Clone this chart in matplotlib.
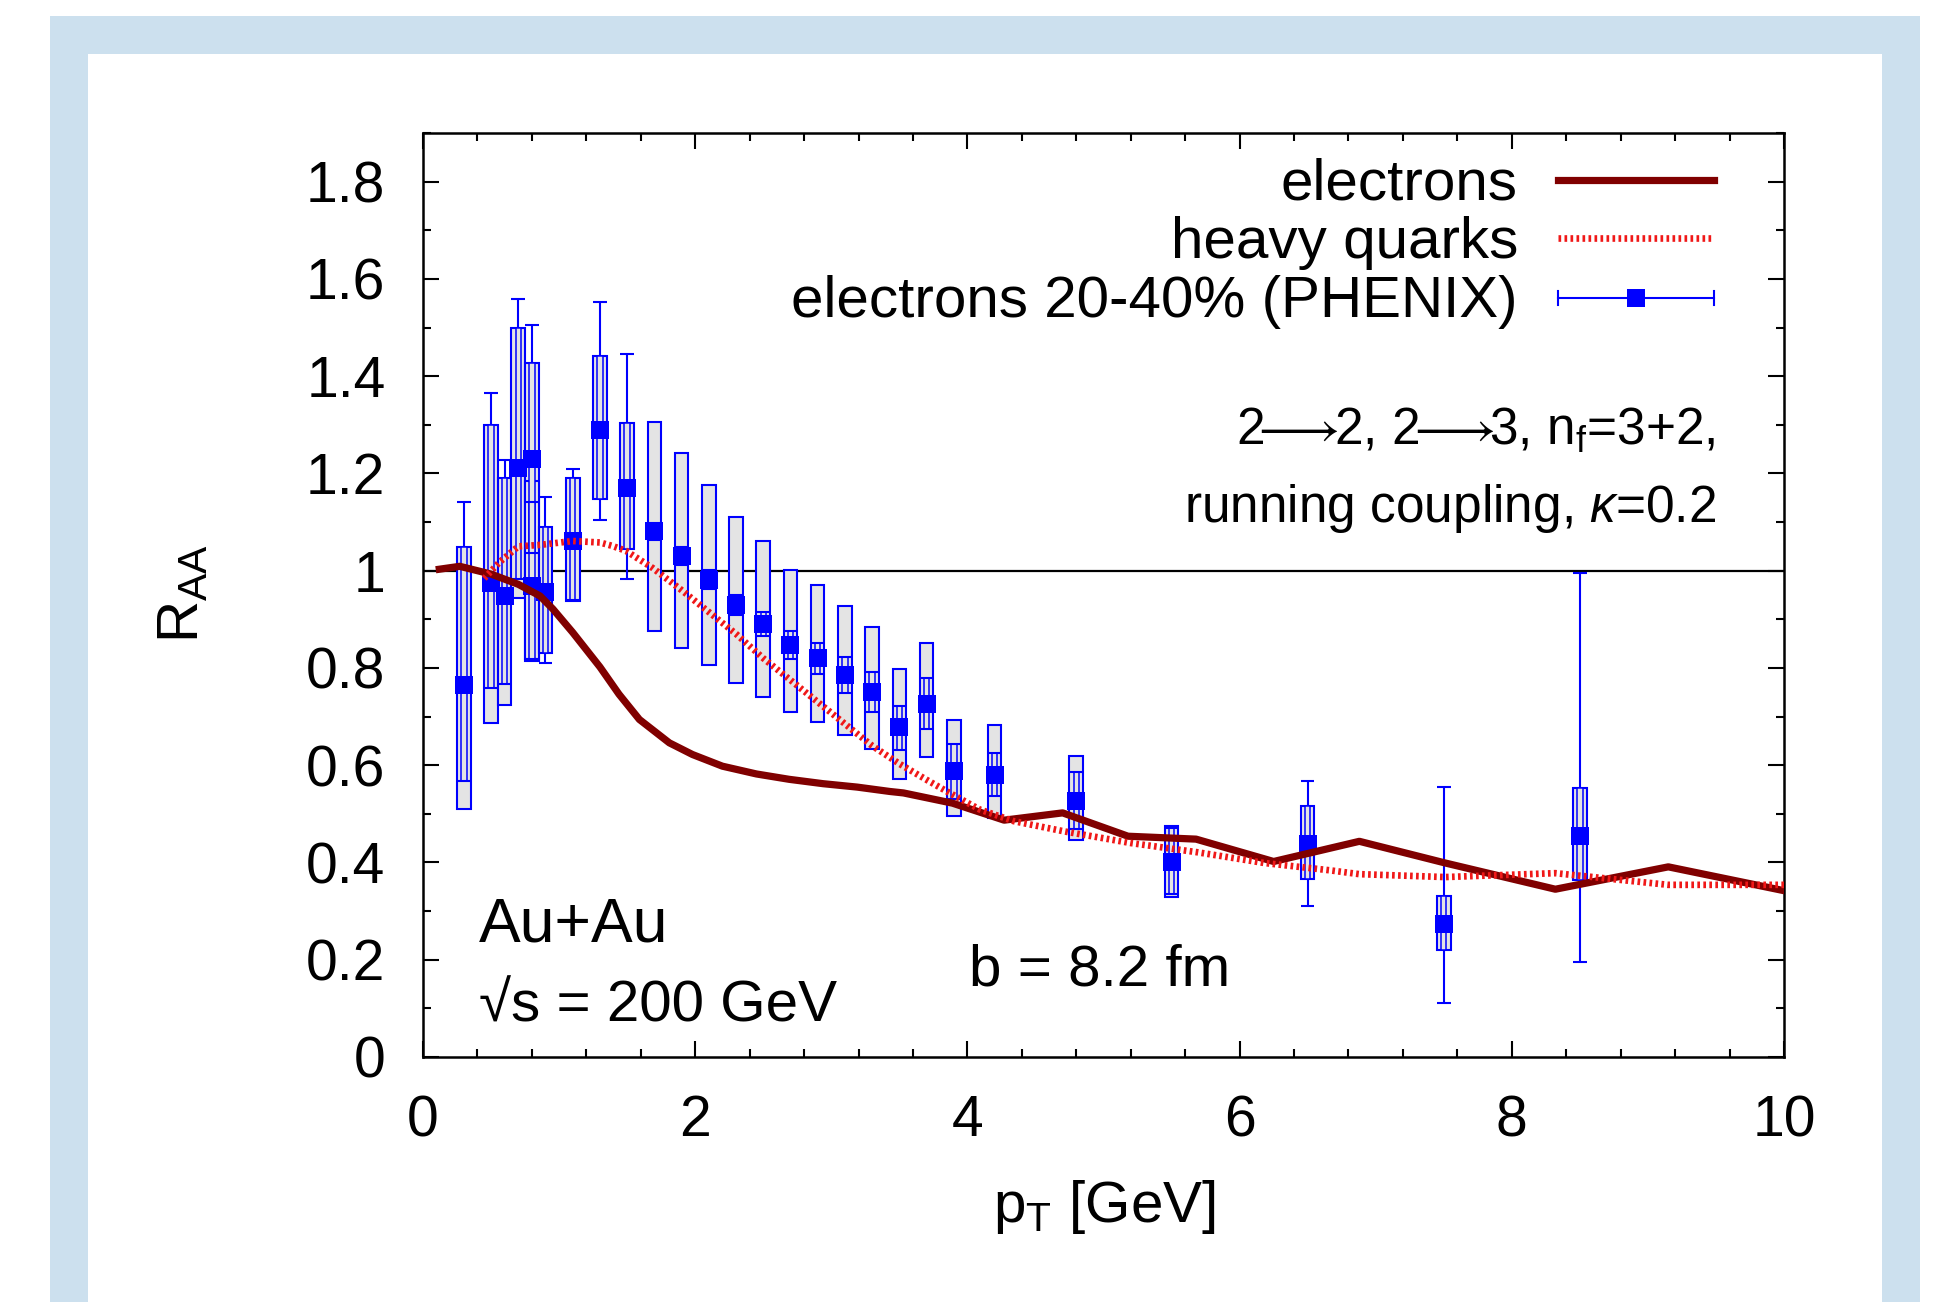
import numpy as np
import matplotlib
matplotlib.use('Agg')
import matplotlib.pyplot as plt
from matplotlib.patches import Rectangle

plt.rcParams['font.family'] = ['Liberation Sans', 'DejaVu Sans']
plt.rcParams['mathtext.fontset'] = 'custom'
plt.rcParams['mathtext.rm'] = 'Liberation Sans'
plt.rcParams['mathtext.it'] = 'Liberation Sans:italic'

# PHENIX electrons 20-40%
pt = [0.3, 0.5, 0.6, 0.7, 0.8, 0.8, 0.9, 1.1, 1.3, 1.5, 1.7, 1.9, 2.1, 2.3,
      2.5, 2.7, 2.9, 3.1, 3.3, 3.5, 3.7, 3.9, 4.2, 4.8, 5.5, 6.5, 7.5, 8.5]
raa = [0.765, 0.974, 0.948, 1.211, 1.230, 0.969, 0.956, 1.061, 1.290, 1.171,
       1.082, 1.030, 0.980, 0.929, 0.890, 0.847, 0.820, 0.785, 0.750, 0.678,
       0.726, 0.588, 0.579, 0.526, 0.401, 0.437, 0.274, 0.454]
stat_hi = [1.142, 1.366, 1.228, 1.559, 1.506, 1.142, 1.151, 1.209, 1.552, 1.446,
           1.099, 1.049, 1.002, 0.951, 0.916, 0.875, 0.852, 0.822, 0.792, 0.722,
           0.779, 0.644, 0.626, 0.586, 0.470, 0.567, 0.555, 0.996]
stat_lo = [0.568, 0.759, 0.766, 0.982, 1.036, 0.818, 0.811, 0.940, 1.105, 0.983,
           1.063, 1.011, 0.962, 0.908, 0.866, 0.819, 0.788, 0.749, 0.710, 0.632,
           0.674, 0.531, 0.536, 0.468, 0.335, 0.311, 0.112, 0.196]
sys_hi = [1.048, 1.300, 1.190, 1.500, 1.428, 1.185, 1.089, 1.190, 1.442, 1.304,
          1.306, 1.241, 1.177, 1.111, 1.062, 1.001, 0.970, 0.927, 0.884, 0.797,
          0.852, 0.692, 0.682, 0.619, 0.476, 0.517, 0.332, 0.553]
sys_lo = [0.509, 0.686, 0.723, 0.943, 0.814, 0.818, 0.830, 0.937, 1.147, 1.044,
          0.877, 0.841, 0.807, 0.770, 0.740, 0.710, 0.689, 0.662, 0.634, 0.572,
          0.616, 0.495, 0.492, 0.446, 0.330, 0.366, 0.221, 0.363]

# model curves
e_pt = [0.12, 0.27, 0.50, 0.70, 0.86, 0.955, 1.10, 1.30, 1.44, 1.59, 1.81, 1.98,
        2.20, 2.45, 2.69, 2.94, 3.19, 3.43, 3.53, 3.89, 4.27, 4.70, 5.18, 5.68,
        6.25, 6.88, 7.51, 8.32, 9.15, 10.0]
e_raa = [1.003, 1.009, 0.993, 0.972, 0.948, 0.921, 0.873, 0.802, 0.746, 0.694,
         0.646, 0.622, 0.598, 0.582, 0.571, 0.562, 0.555, 0.546, 0.543, 0.522,
         0.487, 0.502, 0.454, 0.448, 0.402, 0.4435, 0.399, 0.345, 0.391, 0.342]
h_pt = [0.45, 0.56, 0.70, 0.86, 1.10, 1.30, 1.39, 1.49, 1.69, 1.90, 2.10, 2.30,
        2.50, 2.70, 2.90, 3.10, 3.30, 3.50, 3.70, 3.85, 4.09, 4.34, 4.71, 5.20,
        5.69, 6.18, 6.66, 6.88, 7.51, 8.32, 9.15, 10.0]
h_raa = [0.984, 1.017, 1.050, 1.053, 1.061, 1.058, 1.051, 1.041, 1.005, 0.960,
         0.915, 0.870, 0.820, 0.775, 0.730, 0.685, 0.640, 0.603, 0.570, 0.546,
         0.509, 0.485, 0.464, 0.440, 0.421, 0.399, 0.384, 0.376, 0.370, 0.378,
         0.354, 0.354]

yticks = [0, 0.2, 0.4, 0.6, 0.8, 1.0, 1.2, 1.4, 1.6, 1.8]
ytick_labels = ['0', '0.2', '0.4', '0.6', '0.8', '1', '1.2', '1.4', '1.6', '1.8']

BLUE = '#0000ff'
GREY = '#e4e4e4'
DARKRED = '#800000'
RED = '#f01818'
DOTS = (0, (0.4, 0.5))
MS = 13.5

fig = plt.figure(figsize=(19.36, 13.02), dpi=100)
W, H = 1936, 1302
# light blue frame around the slide
fig.patches.append(Rectangle((50 / W, 0), 1870 / W, 1286 / H, transform=fig.transFigure,
                             facecolor='#cce0ee', edgecolor='none', zorder=-2))
fig.patches.append(Rectangle((88 / W, 0), 1794 / W, 1248 / H, transform=fig.transFigure,
                             facecolor='white', edgecolor='none', zorder=-1))

ax = fig.add_axes([423 / W, 1 - 1057 / H, 1361 / W, 924 / H])
ax.set_xlim(0, 10)
ax.set_ylim(0, 1.9)

ax.axhline(1.0, color='black', lw=1.6, zorder=1.5)

pt_a = np.array(pt)
s_lo, s_hi = np.array(stat_lo), np.array(stat_hi)
b_lo, b_hi = np.array(sys_lo), np.array(sys_hi)

# systematic boxes
ax.bar(pt_a, b_hi - b_lo, bottom=b_lo, width=0.1, color=GREY, edgecolor=BLUE,
       linewidth=1.5, zorder=2)
# statistical bars (hollow inside the boxes, like the original)
ax.vlines(pt_a, s_lo, s_hi, color=BLUE, lw=1.5, zorder=3)
in_lo = np.maximum(s_lo, b_lo)
in_hi = np.minimum(s_hi, b_hi)
ok = in_hi > in_lo
ax.bar(pt_a[ok], (in_hi - in_lo)[ok], bottom=in_lo[ok], width=0.04, color=GREY,
       edgecolor=BLUE, linewidth=1.1, zorder=3.1)
ax.hlines(s_hi, pt_a - 0.05, pt_a + 0.05, color=BLUE, lw=1.5, zorder=3.2)
ax.hlines(s_lo, pt_a - 0.05, pt_a + 0.05, color=BLUE, lw=1.5, zorder=3.2)
ax.plot(pt, raa, 's', color=BLUE, ms=MS, mew=0, zorder=4)

ax.plot(e_pt, e_raa, color=DARKRED, lw=5.2, zorder=5)
ax.plot(h_pt, h_raa, color=RED, lw=4.8, ls=DOTS, zorder=5)

# ticks
ax.set_xticks(np.arange(0, 11, 2))
ax.set_xticks(np.arange(0, 10.01, 0.4), minor=True)
ax.set_yticks(yticks)
ax.set_yticklabels(ytick_labels)
ax.set_yticks(np.arange(0, 1.91, 0.1), minor=True)
ax.tick_params(which='both', direction='in', top=True, right=True, width=1.5,
               labelsize=41, pad=27)
ax.tick_params(which='major', length=11.5)
ax.tick_params(which='minor', length=6)
for s in ax.spines.values():
    s.set_linewidth(1.8)

fig.text(183 / W, 1 - 593 / H, r'R$_\mathregular{AA}$', fontsize=42, rotation=90,
         ha='center', va='center')
fig.text(1104 / W, 1 - 1222 / H, r'p$_\mathregular{T}$ [GeV]', fontsize=42,
         ha='center', va='baseline')

# legend, drawn by hand like the gnuplot key
tx = 0.8045
x0, x1 = 0.834, 0.9486
ax.text(tx, 0.9275, 'electrons', transform=ax.transAxes, fontsize=42,
        ha='right', va='baseline')
ax.plot([x0, x1], [0.949, 0.949], transform=ax.transAxes, color=DARKRED, lw=5.2,
        clip_on=False)
ax.text(tx, 0.8647, 'heavy quarks', transform=ax.transAxes, fontsize=42,
        ha='right', va='baseline')
ax.plot([x0, x1], [0.886, 0.886], transform=ax.transAxes, color=RED, lw=4.8,
        ls=DOTS, clip_on=False)
ax.text(tx, 0.8005, 'electrons 20-40% (PHENIX)', transform=ax.transAxes,
        fontsize=42, ha='right', va='baseline')
ly = 0.8214
ax.plot([x0, x1], [ly, ly], transform=ax.transAxes, color=BLUE, lw=1.5, clip_on=False)
for xc in (x0, x1):
    ax.plot([xc, xc], [ly - 0.0078, ly + 0.0078], transform=ax.transAxes, color=BLUE,
            lw=1.5, clip_on=False)
ax.plot([(x0 + x1) / 2], [ly], 's', transform=ax.transAxes, color=BLUE, ms=MS,
        mew=0, clip_on=False)

arrow = r'$\!\!\longrightarrow\!\!$'
ax.text(0.950, 0.663, '2' + arrow + '2, 2' + arrow + r'3, n$_\mathregular{f}$=3+2,',
        transform=ax.transAxes, fontsize=37, ha='right', va='baseline')
ax.text(0.950, 0.579, r'running coupling, $\kappa$=0.2', transform=ax.transAxes,
        fontsize=37, ha='right', va='baseline')
ax.text(0.0411, 0.1255, 'Au+Au', transform=ax.transAxes, fontsize=45,
        ha='left', va='baseline')
ax.text(0.0411, 0.0379, '√s = 200 GeV', transform=ax.transAxes, fontsize=42,
        ha='left', va='baseline')
ax.text(0.401, 0.0779, 'b = 8.2 fm', transform=ax.transAxes, fontsize=42,
        ha='left', va='baseline')

fig.savefig('out.png', dpi=100)
